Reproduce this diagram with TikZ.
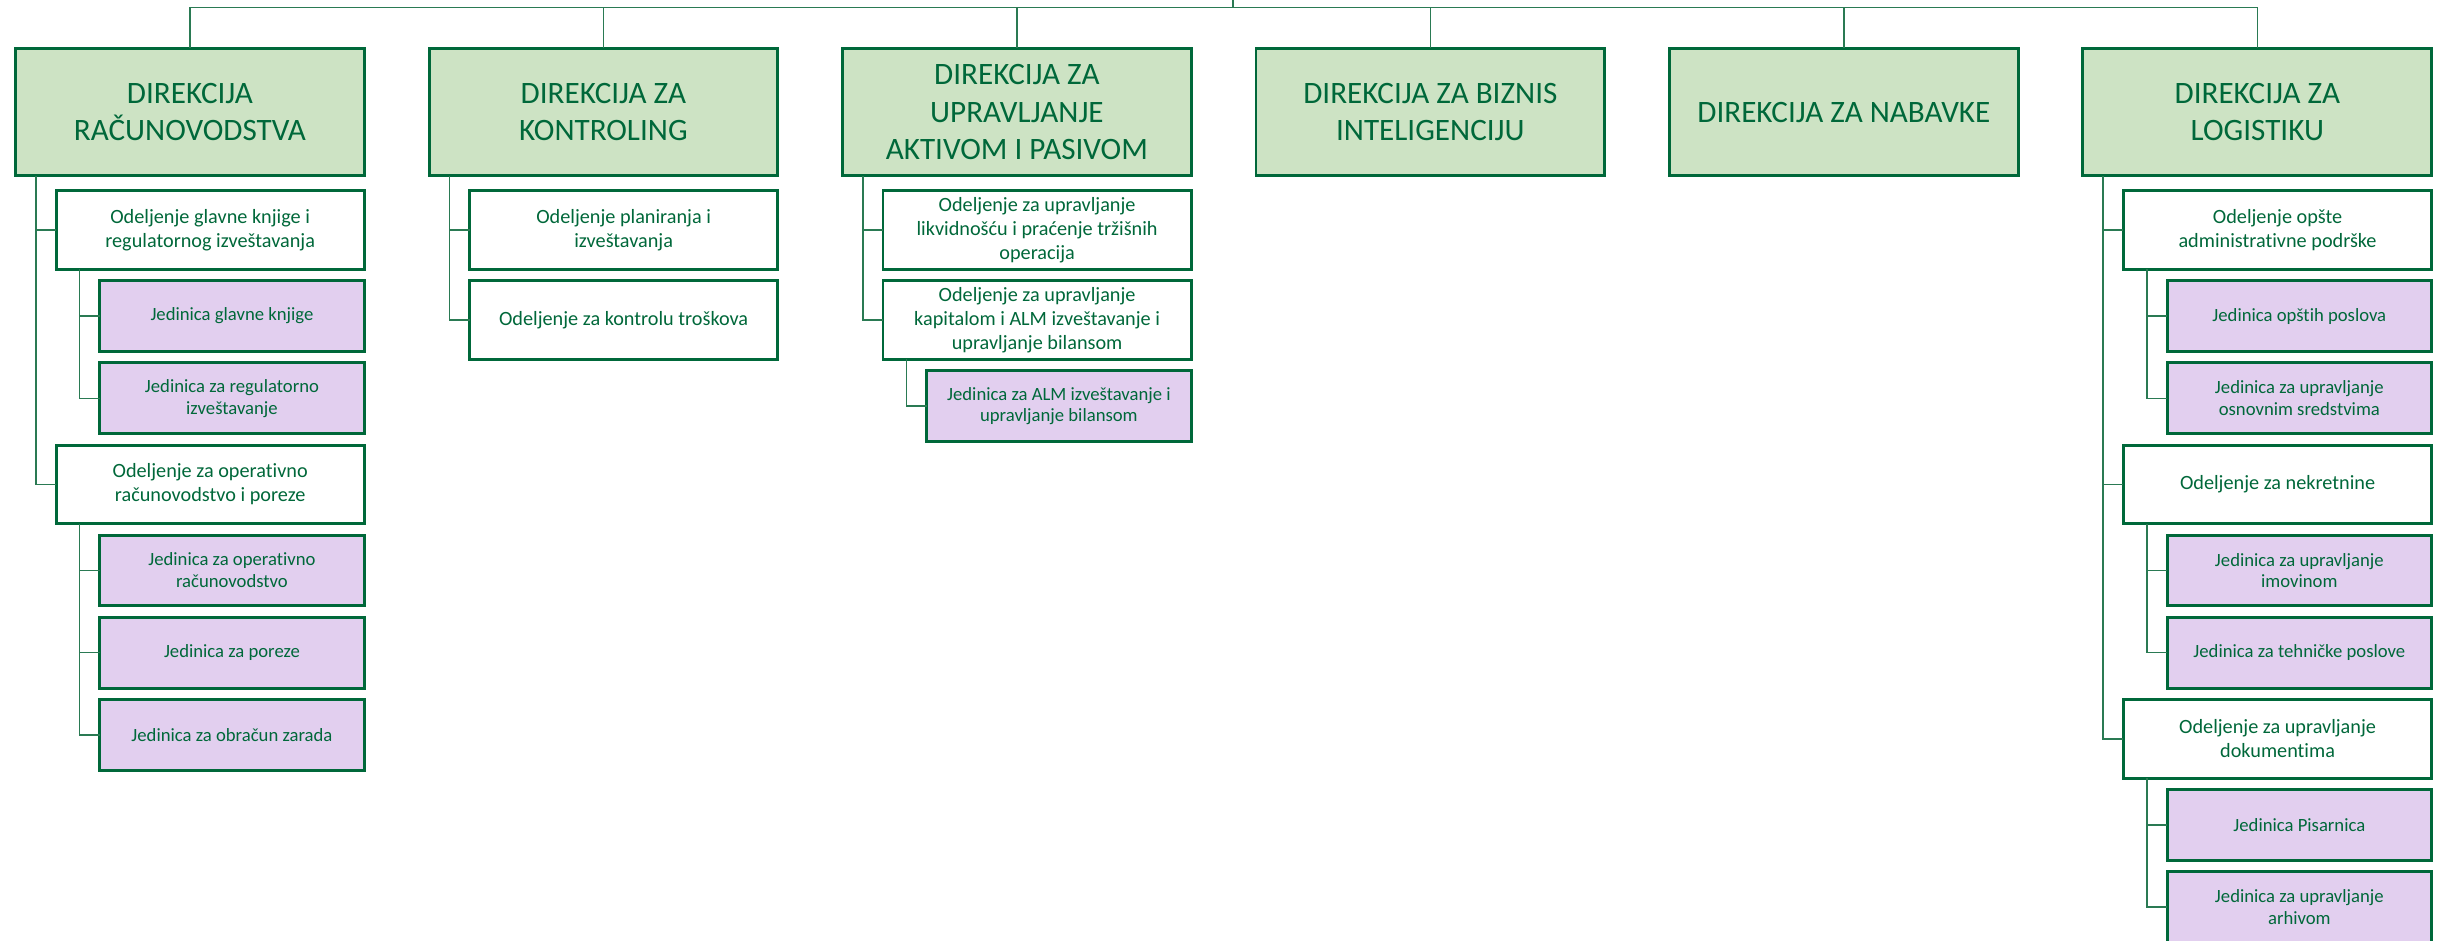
\documentclass[tikz,border=0pt]{standalone}
\usepackage{fontspec}
\setmainfont{Carlito}[Ligatures=CommonOff]
\usepackage{tikz}
\usepackage{xcolor}
\usetikzlibrary{positioning}

\definecolor{zelena}{HTML}{00683A}
\definecolor{linija}{HTML}{2A7A53}
\definecolor{svetlozelena}{HTML}{CDE3C4}
\definecolor{ljubicasta}{HTML}{E2CFEF}

\tikzset{
  dirbox/.style={draw=zelena,line width=1.9pt,fill=svetlozelena,text=zelena,minimum width=224pt,minimum height=82pt,inner sep=0pt,outer sep=0pt,align=center,font=\fontsize{20}{24}\selectfont},
  odbox/.style={draw=zelena,line width=1.9pt,fill=white,text=zelena,minimum width=198pt,minimum height=50.5pt,inner sep=0pt,outer sep=0pt,align=center,font=\fontsize{13}{15.5}\selectfont},
  jedbox/.style={odbox,fill=ljubicasta,minimum width=170pt,minimum height=45.5pt,font=\fontsize{12}{14}\selectfont},
  link/.style={draw=linija,line width=1pt}
}

\begin{document}
\begin{tikzpicture}[x=1pt,y=-1pt]
\path[use as bounding box,clip] (0,0) rectangle (1568,604);

\node[dirbox,anchor=north west] (d1) at (10,31) {DIREKCIJA\\RAČUNOVODSTVA};
\node[dirbox,right=41.6pt of d1] (d2) {DIREKCIJA ZA\\KONTROLING};
\node[dirbox,right=41.6pt of d2] (d3) {DIREKCIJA ZA\\UPRAVLJANJE\\AKTIVOM I PASIVOM};
\node[dirbox,right=41.6pt of d3] (d4) {DIREKCIJA ZA BIZNIS\\INTELIGENCIJU};
\node[dirbox,right=41.6pt of d4] (d5) {DIREKCIJA ZA NABAVKE};
\node[dirbox,right=41.6pt of d5] (d6) {DIREKCIJA ZA\\LOGISTIKU};

\node[odbox,below left=9.5pt and 0pt of d1.south east] (o11) {Odeljenje glavne knjige i\\regulatornog izveštavanja};
\node[jedbox,below left=7.3pt and 0pt of o11.south east] (j111) {Jedinica glavne knjige};
\node[jedbox,below left=7.3pt and 0pt of j111.south east] (j112) {Jedinica za regulatorno\\izveštavanje};
\node[odbox,below left=7.3pt and 0pt of j112.south east] (o12) {Odeljenje za operativno\\računovodstvo i poreze};
\node[jedbox,below left=7.3pt and 0pt of o12.south east] (j121) {Jedinica za operativno\\računovodstvo};
\node[jedbox,below left=7.3pt and 0pt of j121.south east] (j122) {Jedinica za poreze};
\node[jedbox,below left=7.3pt and 0pt of j122.south east] (j123) {Jedinica za obračun zarada};

\node[odbox,below left=9.5pt and 0pt of d2.south east] (o21) {Odeljenje planiranja i\\izveštavanja};
\node[odbox,below left=7.3pt and 0pt of o21.south east] (o22) {Odeljenje za kontrolu troškova};

\node[odbox,below left=9.5pt and 0pt of d3.south east] (o31) {Odeljenje za upravljanje\\likvidnošću i praćenje tržišnih\\operacija};
\node[odbox,below left=7.3pt and 0pt of o31.south east] (o32) {Odeljenje za upravljanje\\kapitalom i ALM izveštavanje i\\upravljanje bilansom};
\node[jedbox,below left=7.3pt and 0pt of o32.south east] (j321) {Jedinica za ALM izveštavanje i\\upravljanje bilansom};

\node[odbox,below left=9.5pt and 0pt of d6.south east] (o61) {Odeljenje opšte\\administrativne podrške};
\node[jedbox,below left=7.3pt and 0pt of o61.south east] (j611) {Jedinica opštih poslova};
\node[jedbox,below left=7.3pt and 0pt of j611.south east] (j612) {Jedinica za upravljanje\\osnovnim sredstvima};
\node[odbox,below left=7.3pt and 0pt of j612.south east] (o62) {Odeljenje za nekretnine};
\node[jedbox,below left=7.3pt and 0pt of o62.south east] (j621) {Jedinica za upravljanje\\imovinom};
\node[jedbox,below left=7.3pt and 0pt of j621.south east] (j622) {Jedinica za tehničke poslove};
\node[odbox,below left=7.3pt and 0pt of j622.south east] (o63) {Odeljenje za upravljanje\\dokumentima};
\node[jedbox,below left=7.3pt and 0pt of o63.south east] (j631) {Jedinica Pisarnica};
\node[jedbox,below left=7.3pt and 0pt of j631.south east] (j632) {Jedinica za upravljanje\\arhivom};

\coordinate (root) at (792,0);
\draw[link] (root) -- ++(0,4.7) coordinate (bus);
\draw[link] (bus) -| (d1.north);
\draw[link] (bus) -| (d2.north);
\draw[link] (bus) -| (d3.north);
\draw[link] (bus) -| (d4.north);
\draw[link] (bus) -| (d5.north);
\draw[link] (bus) -| (d6.north);

\draw[link] ([xshift=13pt]d1.south west) |- (o11.west);
\draw[link] ([xshift=13pt]d1.south west) |- (o12.west);
\draw[link] ([xshift=15pt]o11.south west) |- (j111.west);
\draw[link] ([xshift=15pt]o11.south west) |- (j112.west);
\draw[link] ([xshift=15pt]o12.south west) |- (j121.west);
\draw[link] ([xshift=15pt]o12.south west) |- (j122.west);
\draw[link] ([xshift=15pt]o12.south west) |- (j123.west);

\draw[link] ([xshift=13pt]d2.south west) |- (o21.west);
\draw[link] ([xshift=13pt]d2.south west) |- (o22.west);

\draw[link] ([xshift=13pt]d3.south west) |- (o31.west);
\draw[link] ([xshift=13pt]d3.south west) |- (o32.west);
\draw[link] ([xshift=15pt]o32.south west) |- (j321.west);

\draw[link] ([xshift=13pt]d6.south west) |- (o61.west);
\draw[link] ([xshift=13pt]d6.south west) |- (o62.west);
\draw[link] ([xshift=13pt]d6.south west) |- (o63.west);
\draw[link] ([xshift=15pt]o61.south west) |- (j611.west);
\draw[link] ([xshift=15pt]o61.south west) |- (j612.west);
\draw[link] ([xshift=15pt]o62.south west) |- (j621.west);
\draw[link] ([xshift=15pt]o62.south west) |- (j622.west);
\draw[link] ([xshift=15pt]o63.south west) |- (j631.west);
\draw[link] ([xshift=15pt]o63.south west) |- (j632.west);
\end{tikzpicture}
\end{document}
